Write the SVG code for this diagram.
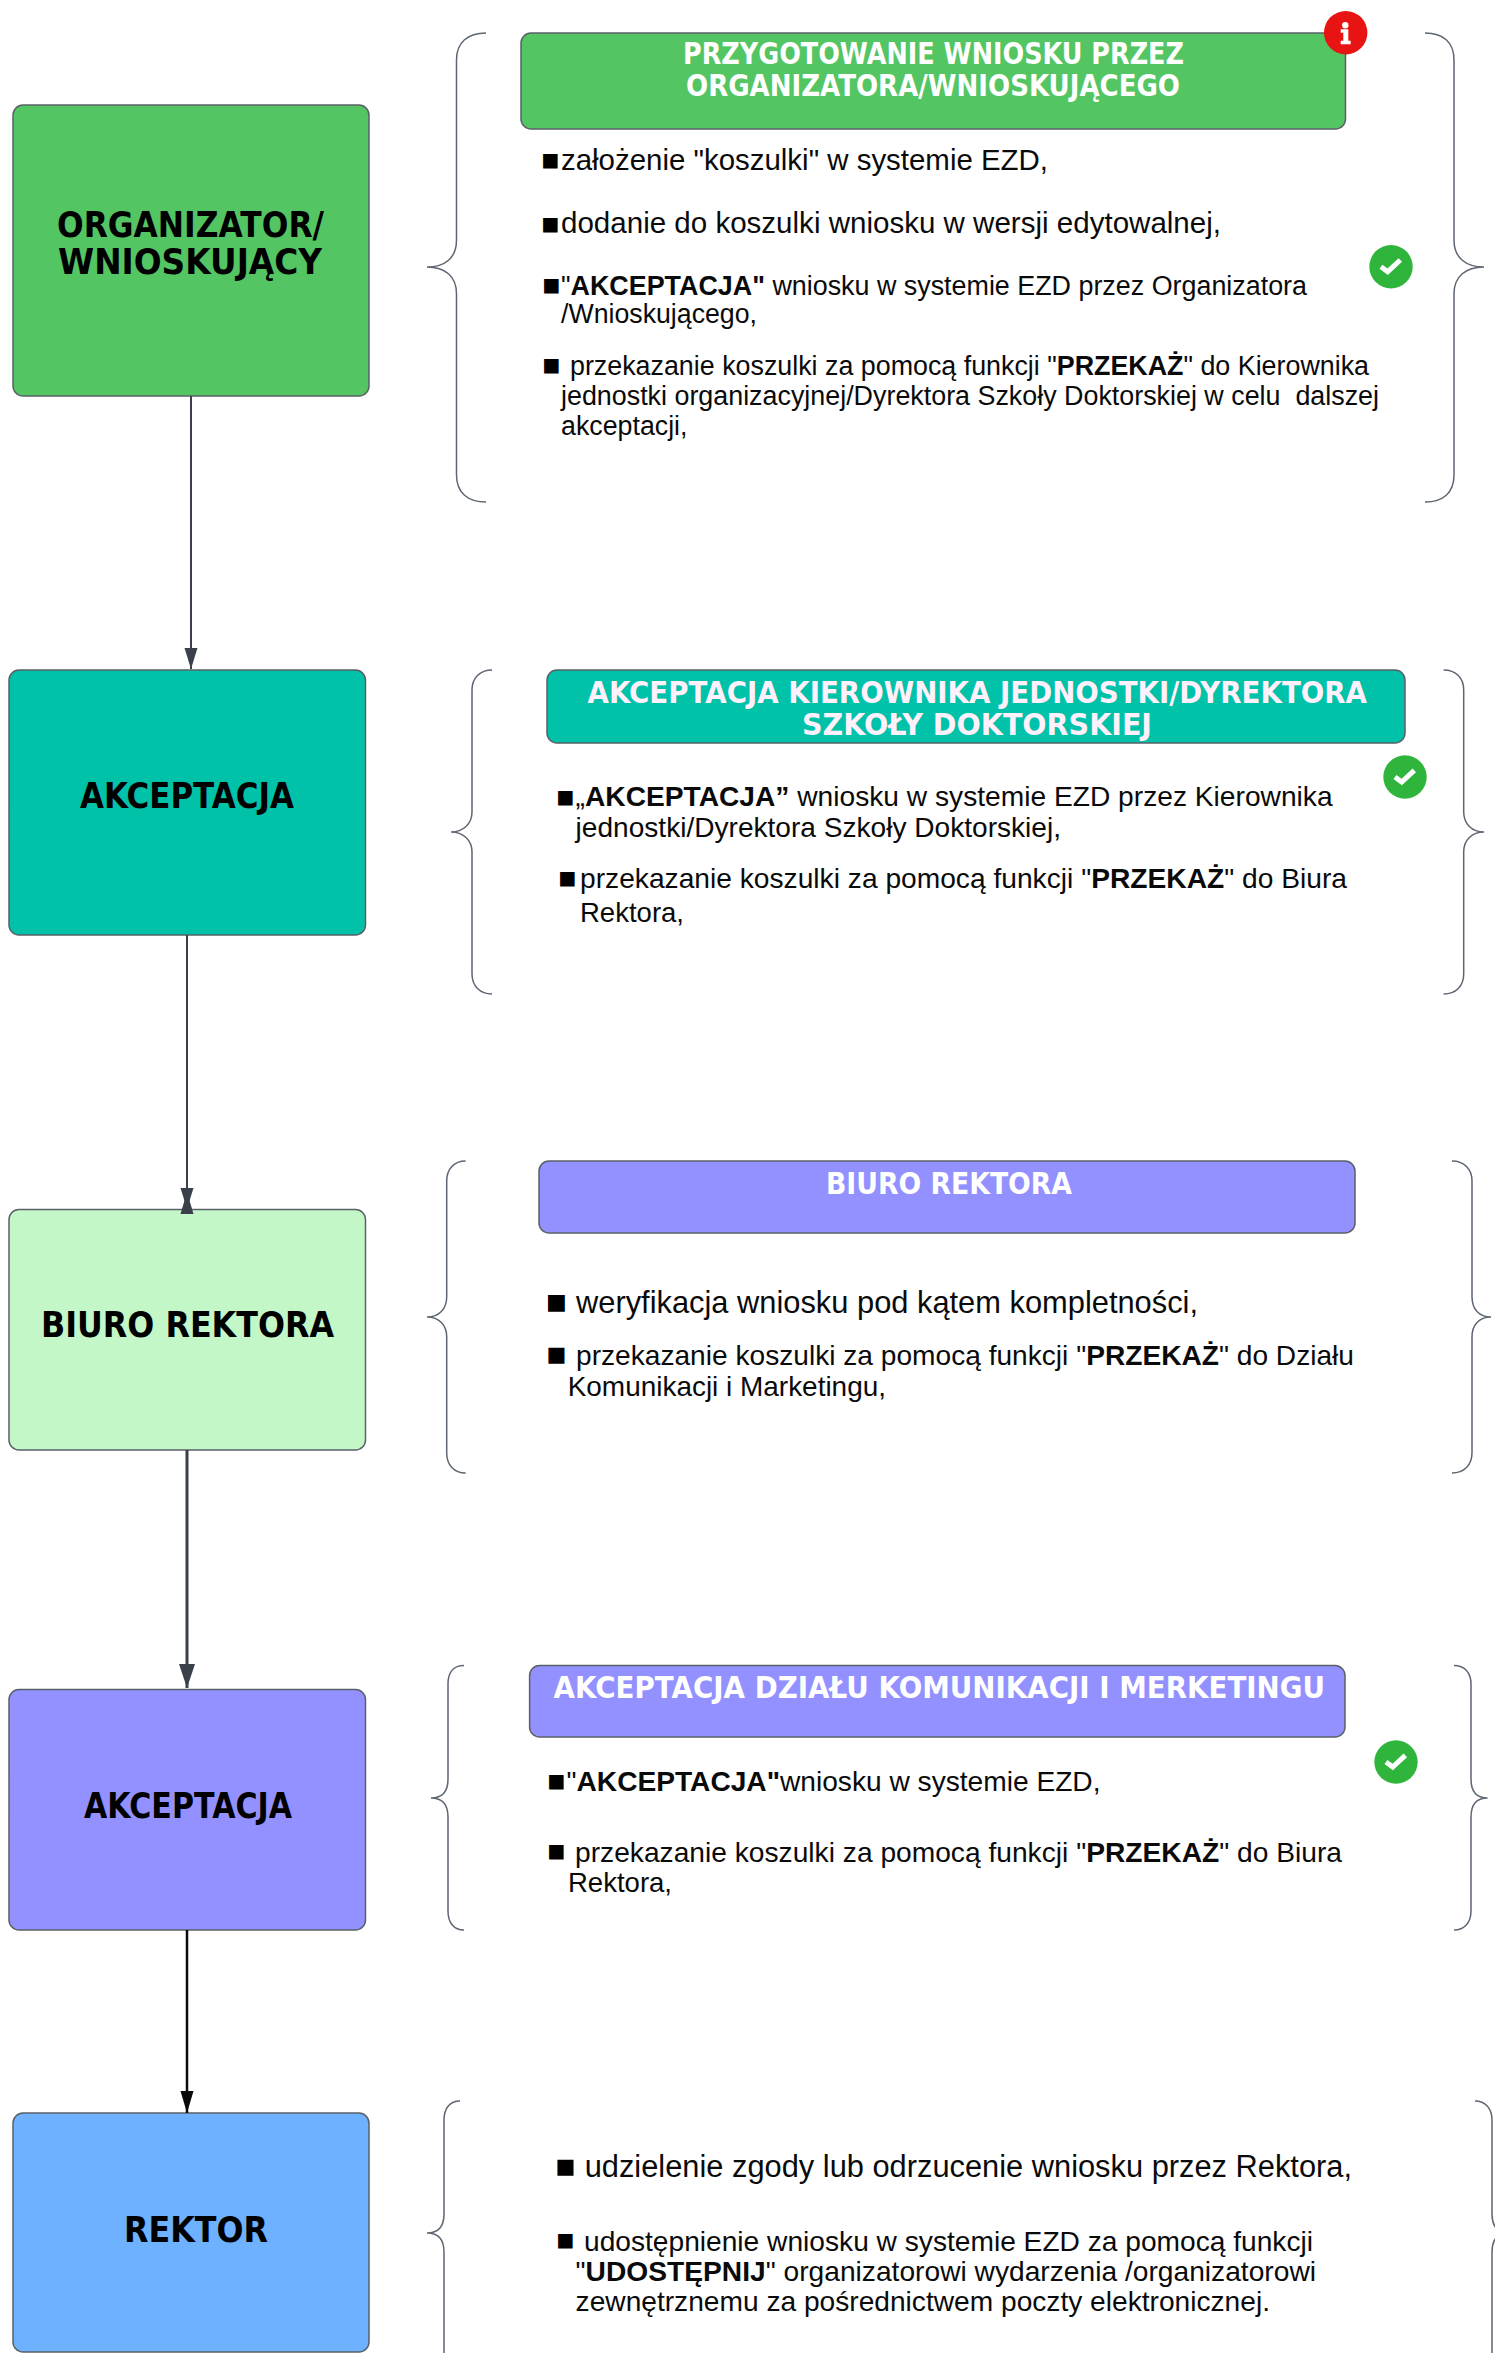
<svg xmlns="http://www.w3.org/2000/svg" width="1495" height="2353" viewBox="0 0 1495 2353">
<style>
.box{stroke:#5a6068;stroke-width:1.5}
.brace{fill:none;stroke:#5e6672;stroke-width:1.5}
.t{font-family:"DejaVu Sans",sans-serif;font-weight:700;fill:#000;font-size:36px}
.h{font-family:"DejaVu Sans",sans-serif;font-weight:700;fill:#fff;font-size:30px}
.p{font-family:"Liberation Sans",Arial,sans-serif;fill:#0a0a0a;font-size:28px}
.b{font-family:"DejaVu Sans",sans-serif;fill:#000;font-size:19px}
.s1{font-size:29.500px}.s2{font-size:27px}.s3{font-size:31.600px}.s5{font-size:30.800px}
.bold{font-weight:700}
.conn{fill:none;stroke:#3a414a;stroke-width:2}
.ok{fill:#2fb53c}.tick{fill:none;stroke:#fff;stroke-width:5}
</style>
<defs>
<marker id="ah" markerUnits="userSpaceOnUse" markerWidth="22" markerHeight="14" refX="21" refY="7" orient="auto"><path d="M0 0.5L21 7L0 13.5Z" fill="#3a414a"/></marker>
<marker id="ahb" markerUnits="userSpaceOnUse" markerWidth="25" markerHeight="17" refX="24" refY="8.5" orient="auto"><path d="M0 0.5L24 8.5L0 16.5Z" fill="#3a414a"/></marker>
<marker id="ahk" markerUnits="userSpaceOnUse" markerWidth="23" markerHeight="14" refX="22" refY="7" orient="auto"><path d="M0 0.5L22 7L0 13.5Z" fill="#0a0a0a"/></marker>
</defs>

<g id="node-organizator">
<rect class="box" x="13" y="105" width="356" height="291" rx="10" fill="#54c563"/>
<text class="t" x="57" y="237" textLength="267" lengthAdjust="spacingAndGlyphs">ORGANIZATOR/</text>
<text class="t" x="58" y="274" textLength="264" lengthAdjust="spacingAndGlyphs">WNIOSKUJĄCY</text>
</g>
<g id="node-akceptacja-1">
<rect class="box" x="9" y="670" width="356.500" height="265" rx="10" fill="#00c2a8"/>
<text class="t" x="80" y="808" textLength="214" lengthAdjust="spacingAndGlyphs">AKCEPTACJA</text>
</g>
<g id="node-biuro">
<rect class="box" x="9" y="1209.500" width="356.500" height="240.500" rx="10" fill="#c3f7c8"/>
<text class="t" x="41" y="1337" textLength="293" lengthAdjust="spacingAndGlyphs">BIURO REKTORA</text>
</g>
<g id="node-akceptacja-2">
<rect class="box" x="9" y="1689.500" width="356.500" height="240.500" rx="10" fill="#9391ff"/>
<text class="t" x="84" y="1818" textLength="208" lengthAdjust="spacingAndGlyphs">AKCEPTACJA</text>
</g>
<g id="node-rektor">
<rect class="box" x="13" y="2113" width="356" height="239" rx="10" fill="#6db1ff"/>
<text class="t" x="124" y="2242" textLength="144" lengthAdjust="spacingAndGlyphs">REKTOR</text>
</g>

<g id="section-1">
<path class="brace" d="M486 33C468 33 456.500 42 456.500 60V240C456.500 258 445 267 427 267C445 267 456.500 276 456.500 294V475C456.500 493 468 502 486 502"/>
<path class="brace" d="M1425 33C1443 33 1454 42 1454 60V240C1454 258 1466 267 1484 267C1466 267 1454 276 1454 294V475C1454 493 1443 502 1425 502"/>
<rect class="box" x="521" y="33" width="824.500" height="96" rx="10" fill="#54c563"/>
<text class="h" x="683" y="64" textLength="501" lengthAdjust="spacingAndGlyphs">PRZYGOTOWANIE WNIOSKU PRZEZ</text>
<text class="h" x="686" y="96" textLength="494" lengthAdjust="spacingAndGlyphs">ORGANIZATORA/WNIOSKUJĄCEGO</text>
<circle cx="1345.700" cy="32.700" r="21.700" fill="#e81313"/>
<path fill="#fff" d="M1340.700 29.300H1348.300V40.700H1350.700V44.300H1340.700V40.700H1343.300V32.700H1340.700Z"/>
<circle cx="1345.300" cy="25.300" r="3.200" fill="#fff"/>
<circle class="ok" cx="1391" cy="266.700" r="21.700"/>
<path class="tick" d="M1381 266.700L1387.700 271.700L1400.300 260"/>
<text class="b" x="541.500" y="166">■</text>
<text class="p s1" x="561" y="170" textLength="487" lengthAdjust="spacingAndGlyphs">założenie "koszulki" w systemie EZD,</text>
<text class="b" x="541.500" y="230">■</text>
<text class="p s1" x="561" y="232.500" textLength="660" lengthAdjust="spacingAndGlyphs">dodanie do koszulki wniosku w wersji edytowalnej,</text>
<text class="b" x="542.500" y="291">■</text>
<text class="p s2" x="561" y="295" textLength="746" lengthAdjust="spacingAndGlyphs">"<tspan class="bold">AKCEPTACJA"</tspan> wniosku w systemie EZD przez Organizatora</text>
<text class="p s2" x="561" y="323" textLength="196" lengthAdjust="spacingAndGlyphs">/Wnioskującego,</text>
<text class="b" x="542.500" y="371">■</text>
<text class="p s2" x="570" y="375" textLength="799" lengthAdjust="spacingAndGlyphs">przekazanie koszulki za pomocą funkcji "<tspan class="bold">PRZEKAŻ</tspan>" do Kierownika</text>
<text class="p s2" x="561" y="405" textLength="818" lengthAdjust="spacingAndGlyphs" xml:space="preserve">jednostki organizacyjnej/Dyrektora Szkoły Doktorskiej w celu  dalszej</text>
<text class="p s2" x="561" y="435" textLength="126.500" lengthAdjust="spacingAndGlyphs">akceptacji,</text>
</g>

<g id="section-2">
<path class="brace" d="M492 670C480 670 472 678 472 690V812C472 824 463 832 451 832C463 832 472 840 472 852V974C472 986 480 994 492 994"/>
<path class="brace" d="M1443.600 670C1456 670 1463.700 678 1463.700 690V812C1463.700 824 1472 832 1484 832C1472 832 1463.700 840 1463.700 852V974C1463.700 986 1456 994 1443.600 994"/>
<rect class="box" x="547" y="670" width="858" height="73" rx="10" fill="#00c2a8"/>
<text class="h" style="fill:#fff0fb" x="587.500" y="703" textLength="779.500" lengthAdjust="spacingAndGlyphs">AKCEPTACJA KIEROWNIKA JEDNOSTKI/DYREKTORA</text>
<text class="h" style="fill:#fff0fb" x="802" y="734.500" textLength="350" lengthAdjust="spacingAndGlyphs">SZKOŁY DOKTORSKIEJ</text>
<circle class="ok" cx="1405" cy="777" r="21.700"/>
<path class="tick" d="M1395 777L1401.700 782L1414.300 770.300"/>
<text class="b" x="556.500" y="802.500">■</text>
<text class="p" x="575.600" y="806" textLength="757" lengthAdjust="spacingAndGlyphs">„<tspan class="bold">AKCEPTACJA”</tspan> wniosku w systemie EZD przez Kierownika</text>
<text class="p" x="575.600" y="837" textLength="485.400" lengthAdjust="spacingAndGlyphs">jednostki/Dyrektora Szkoły Doktorskiej,</text>
<text class="b" x="558.500" y="884">■</text>
<text class="p" x="580" y="888" textLength="767" lengthAdjust="spacingAndGlyphs">przekazanie koszulki za pomocą funkcji "<tspan class="bold">PRZEKAŻ</tspan>" do Biura</text>
<text class="p" x="580" y="921.600" textLength="104" lengthAdjust="spacingAndGlyphs">Rektora,</text>
</g>

<g id="section-3">
<path class="brace" d="M465.700 1161C454 1161 446.700 1169 446.700 1181V1297C446.700 1309 439 1317 427 1317C439 1317 446.700 1325 446.700 1337V1453C446.700 1465 454 1473 465.700 1473"/>
<path class="brace" d="M1452 1161C1464 1161 1472 1169 1472 1181V1297C1472 1309 1479 1317 1491 1317C1479 1317 1472 1325 1472 1337V1453C1472 1465 1464 1473 1452 1473"/>
<rect class="box" x="539" y="1161" width="816" height="72" rx="10" fill="#9391ff"/>
<text class="h" x="826" y="1194" textLength="246" lengthAdjust="spacingAndGlyphs">BIURO REKTORA</text>
<text class="b" style="font-size:22px" x="546" y="1308.500">■</text>
<text class="p s3" x="576" y="1312.700" textLength="622" lengthAdjust="spacingAndGlyphs">weryfikacja wniosku pod kątem kompletności,</text>
<text class="b" style="font-size:21px" x="546.500" y="1360.500">■</text>
<text class="p" x="576" y="1365" textLength="778" lengthAdjust="spacingAndGlyphs">przekazanie koszulki za pomocą funkcji "<tspan class="bold">PRZEKAŻ</tspan>" do Działu</text>
<text class="p" x="567.700" y="1395.700" textLength="318.300" lengthAdjust="spacingAndGlyphs">Komunikacji i Marketingu,</text>
</g>

<g id="section-4">
<path class="brace" d="M464 1665.500C454 1665.500 448 1672 448 1684V1779C448 1791 443 1798 431 1798C443 1798 448 1805 448 1817V1911C448 1923 454 1930 464 1930"/>
<path class="brace" d="M1454 1665.500C1464 1665.500 1471 1672 1471 1684V1779C1471 1791 1476 1798 1487.500 1798C1476 1798 1471 1805 1471 1817V1911C1471 1923 1464 1930 1454 1930"/>
<rect class="box" x="529.600" y="1665.500" width="815.400" height="71.500" rx="10" fill="#9391ff"/>
<text class="h" x="553.600" y="1698" textLength="771.400" lengthAdjust="spacingAndGlyphs">AKCEPTACJA DZIAŁU KOMUNIKACJI I MERKETINGU</text>
<circle class="ok" cx="1396" cy="1762" r="21.700"/>
<path class="tick" d="M1386 1762L1392.700 1767L1405.300 1755.300"/>
<text class="b" x="547.500" y="1786.500">■</text>
<text class="p" x="566.500" y="1791" textLength="534" lengthAdjust="spacingAndGlyphs">"<tspan class="bold">AKCEPTACJA"</tspan>wniosku w systemie EZD,</text>
<text class="b" x="547.500" y="1857">■</text>
<text class="p" x="575" y="1862" textLength="767" lengthAdjust="spacingAndGlyphs">przekazanie koszulki za pomocą funkcji "<tspan class="bold">PRZEKAŻ</tspan>" do Biura</text>
<text class="p" x="568" y="1892" textLength="104" lengthAdjust="spacingAndGlyphs">Rektora,</text>
</g>

<g id="section-5">
<path class="brace" d="M460 2101C450 2101 444 2108 444 2120V2214C444 2226 439 2233 427 2233C439 2233 444 2240 444 2252V2360"/>
<path class="brace" d="M1475 2101C1485 2101 1492 2108 1492 2120V2214C1492 2226 1497 2233 1509 2233C1497 2233 1492 2240 1492 2252V2360"/>
<text class="b" style="font-size:21px" x="555.500" y="2173">■</text>
<text class="p s5" x="584.700" y="2177" textLength="767.300" lengthAdjust="spacingAndGlyphs">udzielenie zgody lub odrzucenie wniosku przez Rektora,</text>
<text class="b" x="556.500" y="2246">■</text>
<text class="p" x="584" y="2250.500" textLength="729" lengthAdjust="spacingAndGlyphs">udostępnienie wniosku w systemie EZD za pomocą funkcji</text>
<text class="p" x="575.600" y="2281" textLength="740.400" lengthAdjust="spacingAndGlyphs">"<tspan class="bold">UDOSTĘPNIJ</tspan>" organizatorowi wydarzenia /organizatorowi</text>
<text class="p" x="575.600" y="2311" textLength="694.400" lengthAdjust="spacingAndGlyphs">zewnętrznemu za pośrednictwem poczty elektronicznej.</text>
</g>

<g id="connectors">
<path class="conn" d="M191 396V669" marker-end="url(#ah)"/>
<path class="conn" d="M187 935V1209" marker-end="url(#ah)"/>
<path d="M187 1192L193.500 1214H180.500Z" fill="#3a414a"/>
<path class="conn" style="stroke-width:3" d="M187 1450V1688" marker-end="url(#ahb)"/>
<path class="conn" style="stroke:#0a0a0a;stroke-width:2.500" d="M187 1930V2113" marker-end="url(#ahk)"/>
</g>
</svg>
